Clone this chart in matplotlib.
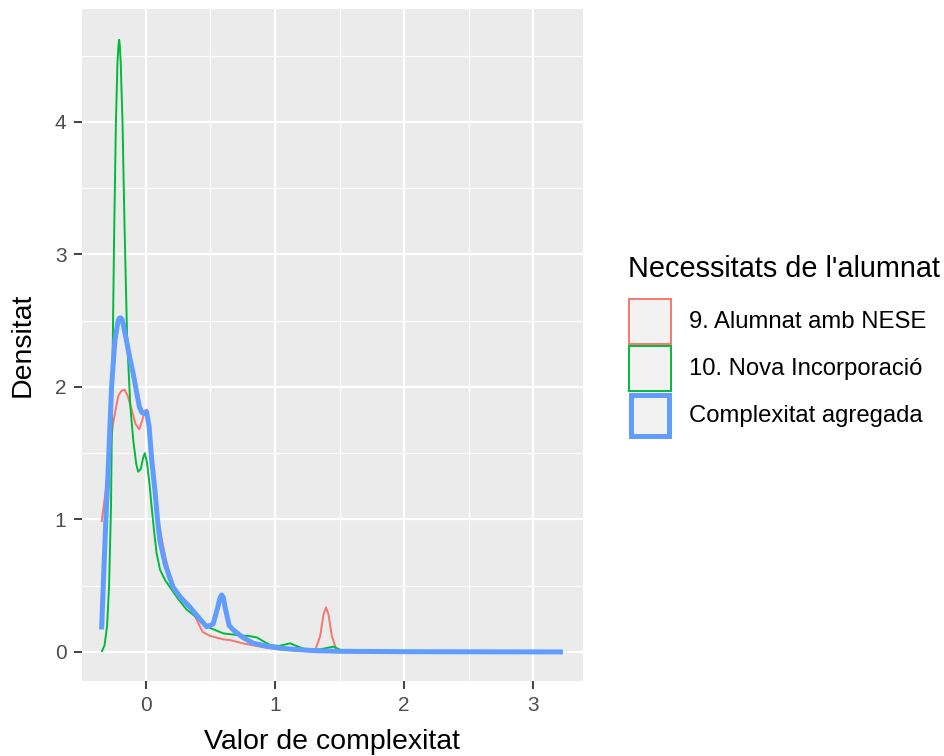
import numpy as np
import matplotlib.pyplot as plt
from matplotlib.patches import Rectangle
from matplotlib.ticker import MultipleLocator

plt.rcParams['font.family'] = ['Liberation Sans', 'DejaVu Sans']

# grups i colors (paleta per defecte de ggplot)
grups = ["9. Alumnat amb NESE", "10. Nova Incorporació", "Complexitat agregada"]
colors = ["#F8766D", "#00BA38", "#619CFF"]

# corbes de densitat llegides del gràfic
nese_x = [-0.343, -0.32, -0.305, -0.28, -0.253, -0.215, -0.19, -0.165, -0.14, -0.11,
          -0.08, -0.052, -0.03, -0.01, 0.01, 0.025, 0.045, 0.07, 0.095, 0.12,
          0.15, 0.18, 0.21, 0.24, 0.29, 0.34, 0.39, 0.44, 0.5, 0.6,
          0.65, 0.75, 0.83, 0.94, 1.04, 1.15, 1.25, 1.31, 1.35, 1.375,
          1.395, 1.415, 1.44, 1.478, 1.55]
nese_y = [0.98, 1.15, 1.27, 1.5, 1.73, 1.93, 1.97, 1.98, 1.93, 1.83,
          1.72, 1.68, 1.74, 1.82, 1.83, 1.72, 1.45, 1.15, 1.0, 0.87,
          0.72, 0.6, 0.5, 0.44, 0.4, 0.34, 0.25, 0.15, 0.12, 0.095,
          0.09, 0.065, 0.05, 0.03, 0.02, 0.01, 0.005, 0.01, 0.12, 0.28,
          0.337, 0.28, 0.12, 0.01, 0.0]

nova_x = [-0.343, -0.32, -0.30, -0.285, -0.27, -0.258, -0.245, -0.232, -0.22, -0.212,
          -0.207, -0.202, -0.195, -0.181, -0.165, -0.145, -0.12, -0.098, -0.075, -0.06,
          -0.04, -0.02, -0.008, 0.01, 0.03, 0.044, 0.065, 0.083, 0.11, 0.15,
          0.186, 0.25, 0.315, 0.38, 0.44, 0.5, 0.6, 0.73, 0.8, 0.858,
          0.92, 0.96, 1.03, 1.116, 1.18, 1.245, 1.35, 1.452, 1.52, 1.6]
nova_y = [0.0, 0.05, 0.2, 0.5, 1.1, 2.2, 3.2, 4.0, 4.45, 4.58,
          4.62, 4.58, 4.45, 4.0, 3.2, 2.35, 1.85, 1.6, 1.42, 1.36,
          1.38, 1.47, 1.5, 1.42, 1.25, 1.1, 0.9, 0.745, 0.62, 0.54,
          0.49, 0.40, 0.32, 0.27, 0.22, 0.18, 0.14, 0.125, 0.12, 0.11,
          0.075, 0.053, 0.045, 0.065, 0.04, 0.015, 0.02, 0.04, 0.01, 0.0]

agreg_x = [-0.343, -0.33, -0.312, -0.292, -0.266, -0.24, -0.215, -0.204, -0.194, -0.185,
           -0.175, -0.15, -0.125, -0.098, -0.07, -0.05, -0.033, -0.015, 0.006, 0.025,
           0.045, 0.07, 0.09, 0.108, 0.15, 0.21, 0.27, 0.34, 0.4, 0.47,
           0.52, 0.555, 0.575, 0.587, 0.6, 0.615, 0.645, 0.677, 0.75, 0.83,
           0.93, 1.04, 1.15, 1.3, 1.5, 2.0, 3.23]
agreg_y = [0.17, 0.5, 0.95, 1.37, 2.0, 2.35, 2.5, 2.52, 2.52, 2.51,
           2.47, 2.35, 2.22, 2.1, 1.95, 1.85, 1.81, 1.8, 1.81, 1.7,
           1.45, 1.22, 1.0, 0.845, 0.66, 0.49, 0.41, 0.34, 0.27, 0.19,
           0.21, 0.33, 0.41, 0.43, 0.41, 0.33, 0.2, 0.166, 0.11, 0.066,
           0.045, 0.028, 0.02, 0.01, 0.005, 0.002, 0.0]

corbes = [(nese_x, nese_y), (nova_x, nova_y), (agreg_x, agreg_y)]
gruixos = [1.4, 1.4, 3.6]

W, H = 945, 756
fig = plt.figure(figsize=(W / 100, H / 100), dpi=100)
ax = fig.add_axes([81.7 / W, 1 - 680.7 / H, (582.7 - 81.7) / W, (680.7 - 9.3) / H])
ax.set_facecolor("#EBEBEB")
for s in ax.spines.values():
    s.set_visible(False)

ax.xaxis.set_major_locator(MultipleLocator(1))
ax.xaxis.set_minor_locator(MultipleLocator(0.5))
ax.yaxis.set_major_locator(MultipleLocator(1))
ax.yaxis.set_minor_locator(MultipleLocator(0.5))
ax.grid(which="major", color="white", linewidth=1.6)
ax.grid(which="minor", color="white", linewidth=0.8)
ax.set_axisbelow(True)

for (xs, ys), c, lw in zip(corbes, colors, gruixos):
    ax.plot(xs, ys, color=c, linewidth=lw, solid_capstyle="butt",
            solid_joinstyle="round")

ax.set_xlim(-0.497, 3.383)
ax.set_ylim(-0.217, 4.85)
ax.tick_params(which="major", length=6, width=1.3, color="#333333",
               labelsize=15, labelcolor="#4D4D4D", pad=5)
ax.tick_params(which="minor", length=0)
ax.set_xlabel("Valor de complexitat", fontsize=20.5, labelpad=10)
ax.set_ylabel("Densitat", fontsize=20.5, labelpad=14)

# llegenda dibuixada a mà, com la de ggplot
fig.text(628 / W, 1 - 269 / H, "Necessitats de l'alumnat", fontsize=20.8,
         ha="left", va="center")
key_top = 298
key_h = 47
for i, (g, c, lw) in enumerate(zip(grups, colors, gruixos)):
    y0 = key_top + i * key_h
    ins = lw * 0.7
    fig.add_artist(Rectangle(((628 + ins) / W, 1 - (y0 + key_h - ins) / H),
                             (44 - 2 * ins) / W, (key_h - 2 * ins) / H,
                             transform=fig.transFigure, facecolor="#F2F2F2",
                             edgecolor=c, linewidth=lw))
    fig.text(689 / W, 1 - (y0 + key_h / 2) / H, g, fontsize=17.2,
             ha="left", va="center")

fig.savefig("out.png", dpi=100)
